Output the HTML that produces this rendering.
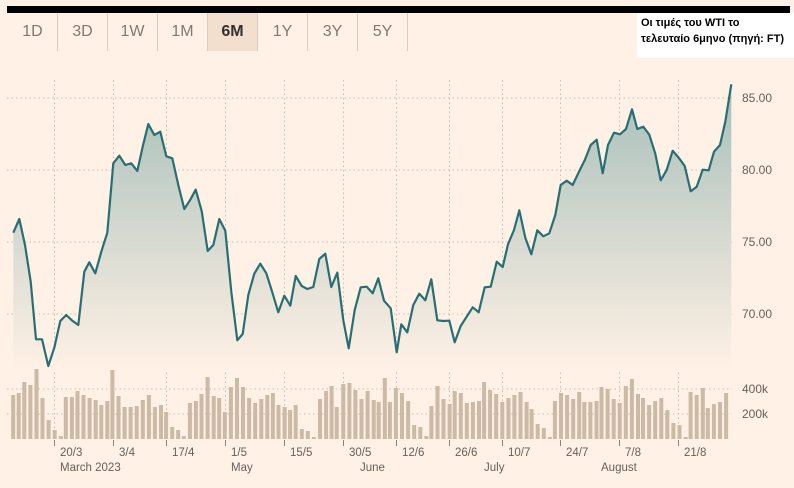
<!DOCTYPE html>
<html><head><meta charset="utf-8"><style>
html,body{margin:0;padding:0;background:#fff1e5;}
body{width:794px;height:488px;position:relative;overflow:hidden;font-family:"Liberation Sans",sans-serif;}
.bar{position:absolute;left:7px;top:6px;width:783px;height:7px;background:#000;}
.tab{position:absolute;top:13px;width:50px;height:38px;line-height:38px;text-align:center;font-size:16px;color:#807973;border-right:1px solid #d9ccc1;box-sizing:border-box;}
.note{position:absolute;left:637px;top:13px;width:157px;height:45px;background:#fff;font-size:11px;font-weight:bold;color:#000;line-height:16px;padding:2px 0 0 4px;box-sizing:border-box;white-space:nowrap;font-family:"Liberation Sans","DejaVu Sans",sans-serif;}
svg{position:absolute;left:0;top:0;}
</style></head><body>
<div class="bar"></div>
<div class="tab" style="left:8px">1D</div>
<div class="tab" style="left:58px">3D</div>
<div class="tab" style="left:108px">1W</div>
<div class="tab" style="left:158px">1M</div>
<div class="tab" style="left:208px;background:#f2dfce;color:#33302e;font-weight:bold">6M</div>
<div class="tab" style="left:258px">1Y</div>
<div class="tab" style="left:308px">3Y</div>
<div class="tab" style="left:358px">5Y</div>
<div class="note">Οι τιμές του WTI το<br>τελευταίο 6μηνο (πηγή: FT)</div>
<svg width="794" height="488" xmlns="http://www.w3.org/2000/svg">
<defs><linearGradient id="g" x1="0" y1="0" x2="0" y2="1">
<stop offset="0" stop-color="#a7bfba"/><stop offset="1" stop-color="#fff1e5"/></linearGradient></defs>
<g stroke="#c9bcb0" stroke-dasharray="1.5 3" stroke-width="1">
<line x1="7" y1="98" x2="732" y2="98"/><line x1="7" y1="170" x2="732" y2="170"/>
<line x1="7" y1="242" x2="732" y2="242"/><line x1="7" y1="314" x2="732" y2="314"/>
<line x1="7" y1="389" x2="732" y2="389"/><line x1="7" y1="414" x2="732" y2="414"/>
<line x1="54.5" y1="80" x2="54.5" y2="439"/><line x1="113.5" y1="80" x2="113.5" y2="439"/>
<line x1="166.5" y1="80" x2="166.5" y2="439"/><line x1="225.5" y1="80" x2="225.5" y2="439"/>
<line x1="284.5" y1="80" x2="284.5" y2="439"/><line x1="343.5" y1="80" x2="343.5" y2="439"/>
<line x1="396.5" y1="80" x2="396.5" y2="439"/><line x1="449.5" y1="80" x2="449.5" y2="439"/>
<line x1="502.5" y1="80" x2="502.5" y2="439"/><line x1="560.5" y1="80" x2="560.5" y2="439"/>
<line x1="619.5" y1="80" x2="619.5" y2="439"/><line x1="678.5" y1="80" x2="678.5" y2="439"/>
</g>
<polygon id="area" fill="url(#g)" points=""/>
<polyline id="line" fill="none" stroke="#276f73" stroke-width="2.2" stroke-linejoin="round" points=""/>
<g id="vol" fill="#ccb9a6"></g>
<g stroke="#8a837d" stroke-width="1">
<line x1="54.5" y1="440" x2="54.5" y2="446"/><line x1="113.5" y1="440" x2="113.5" y2="446"/>
<line x1="166.5" y1="440" x2="166.5" y2="446"/><line x1="225.5" y1="440" x2="225.5" y2="446"/>
<line x1="284.5" y1="440" x2="284.5" y2="446"/><line x1="343.5" y1="440" x2="343.5" y2="446"/>
<line x1="396.5" y1="440" x2="396.5" y2="446"/><line x1="449.5" y1="440" x2="449.5" y2="446"/>
<line x1="502.5" y1="440" x2="502.5" y2="446"/><line x1="560.5" y1="440" x2="560.5" y2="446"/>
<line x1="619.5" y1="440" x2="619.5" y2="446"/><line x1="678.5" y1="440" x2="678.5" y2="446"/>
</g>
<g font-size="11.5" fill="#66605c">
<text x="60" y="456">20/3</text><text x="119" y="456">3/4</text><text x="172" y="456">17/4</text>
<text x="231" y="456">1/5</text><text x="290" y="456">15/5</text><text x="349" y="456">30/5</text>
<text x="402" y="456">12/6</text><text x="455" y="456">26/6</text><text x="508" y="456">10/7</text>
<text x="566" y="456">24/7</text><text x="625" y="456">7/8</text><text x="684" y="456">21/8</text>
<text x="60" y="471">March 2023</text><text x="231" y="471">May</text><text x="360" y="471">June</text>
<text x="484" y="471">July</text><text x="601" y="471">August</text>
</g>
<g font-size="12" fill="#66605c">
<text x="742" y="102">85.00</text><text x="742" y="174">80.00</text>
<text x="742" y="246">75.00</text><text x="742" y="318">70.00</text>
<text x="742" y="393">400k</text><text x="742" y="418">200k</text>
</g>
</svg>
<script>
var p=[[13.3,232.7],[19.3,219],[25,245],[30.7,281.7],[36,339.3],[42,339.3],[48.3,366],[54.3,347.7],[60.3,321],[66.3,315],[72.3,320.7],[78.3,325],[84.3,271.7],[89.3,262.3],[95.3,273.3],[101.3,251.7],[107.3,232.7],[113.3,163.3],[119.3,155.7],[125.3,165],[131.3,163.3],[137.3,171],[142.7,146.7],[148.3,124],[154.3,135],[160.3,131.7],[166.3,156.3],[172.3,158.3],[178.3,185],[184.3,209],[190.3,199.7],[195.7,189.7],[201.7,211],[207.7,251],[213.3,245],[219.3,219],[225.3,230.7],[231.3,291.7],[237.3,340.3],[242.7,334],[248.3,295],[254.3,273.7],[260.3,263.7],[266.3,273.3],[272.3,292.3],[278.3,312.3],[284.3,295.7],[290.3,305.7],[295.7,276],[301.7,286],[307.3,289],[313.3,287],[319.3,259],[325.3,253.7],[331.3,287],[337.3,272.7],[343.3,320.3],[348.7,348.3],[354.7,310],[360.7,287.3],[366.7,286.7],[372.7,293.3],[378.3,278.3],[384,300.7],[390.7,308.3],[396.7,352.3],[401.3,324.3],[407.3,332.3],[413.3,305],[419.3,293.7],[425.3,300.3],[431.3,279.3],[437.3,320.3],[443.3,321],[449.3,320.7],[454.7,342.3],[460.7,326],[466.7,316.7],[472.7,307.3],[478.7,312.3],[484.7,287.3],[490.7,286.7],[496.7,261.7],[502.7,267],[508,244.3],[514,230],[519.3,210.3],[525.3,237.7],[531.3,254.3],[537.3,230.3],[543.3,236.3],[549.3,233.3],[555.3,215],[560.7,185],[566.7,180.7],[572.7,185],[578.7,172.3],[584.7,160.3],[590.7,145],[596.7,139.7],[602.7,173.3],[608,145],[614,132.7],[620,134.3],[626,129],[632,109.3],[637.3,129],[643.3,126.7],[649.3,134.7],[655.3,153.7],[660.7,180.3],[666.7,170],[672.7,150.7],[678.7,157.7],[684.7,166],[690.7,191.3],[696.7,186.7],[702.7,169.7],[708.7,170.3],[714,151.7],[720,145],[725.3,121.7],[731.3,84.3]];
var s=p.map(function(a){return a[0]+','+a[1]}).join(' ');
document.getElementById('line').setAttribute('points',s);
document.getElementById('area').setAttribute('points','13.3,370 '+s+' 731.3,370');
var v=[[26,44],[37,46],[48,57],[60,54],[72,70],[84,41],[96,19],[108,9],[120,3],[130,42],[142,42],[153,48],[165,44],[177,41],[189,39],[200,34],[212,38],[222,69],[234,43],[246,32],[258,32],[270,33],[282,39],[294,44],[306,32],[318,34],[328,27],[340,12],[352,9],[363,3],[375,36],[387,38],[398,45],[410,62],[422,43],[433,41],[444,27],[456,52],[468,61],[480,52],[492,41],[504,36],[516,40],[528,44],[539,46],[550,34],[562,32],[573,29],[584,34],[596,10],[608,8],[620,2],[632,40],[644,48],[655,53],[665,32],[678,55],[690,56],[702,49],[714,40],[726,48],[738,39],[748,37],[760,61],[770,37],[782,51],[794,46],[806,38],[818,14],[830,12],[842,3],[852,33],[864,53],[876,40],[888,35],[898,48],[910,46],[922,36],[934,37],[946,38],[956,57],[968,49],[980,45],[992,37],[1004,41],[1016,44],[1028,47],[1040,37],[1050,30],[1062,15],[1074,11],[1086,2],[1096,38],[1108,46],[1120,44],[1132,40],[1144,47],[1154,37],[1166,37],[1178,38],[1188,52],[1200,50],[1212,40],[1224,36],[1236,53],[1248,60],[1260,45],[1270,41],[1282,34],[1294,38],[1306,41],[1318,29],[1330,16],[1342,14],[1354,2],[1364,47],[1376,44],[1388,51],[1398,31],[1410,35],[1422,37],[1434,46]];
var g=document.getElementById('vol'),ns='http://www.w3.org/2000/svg';
v.forEach(function(b){var r=document.createElementNS(ns,'rect');var x=b[0]/1.975-2;r.setAttribute('x',x.toFixed(1));r.setAttribute('y',439-b[1]);r.setAttribute('width',4);r.setAttribute('height',b[1]);g.appendChild(r);});
</script>
</body></html>
